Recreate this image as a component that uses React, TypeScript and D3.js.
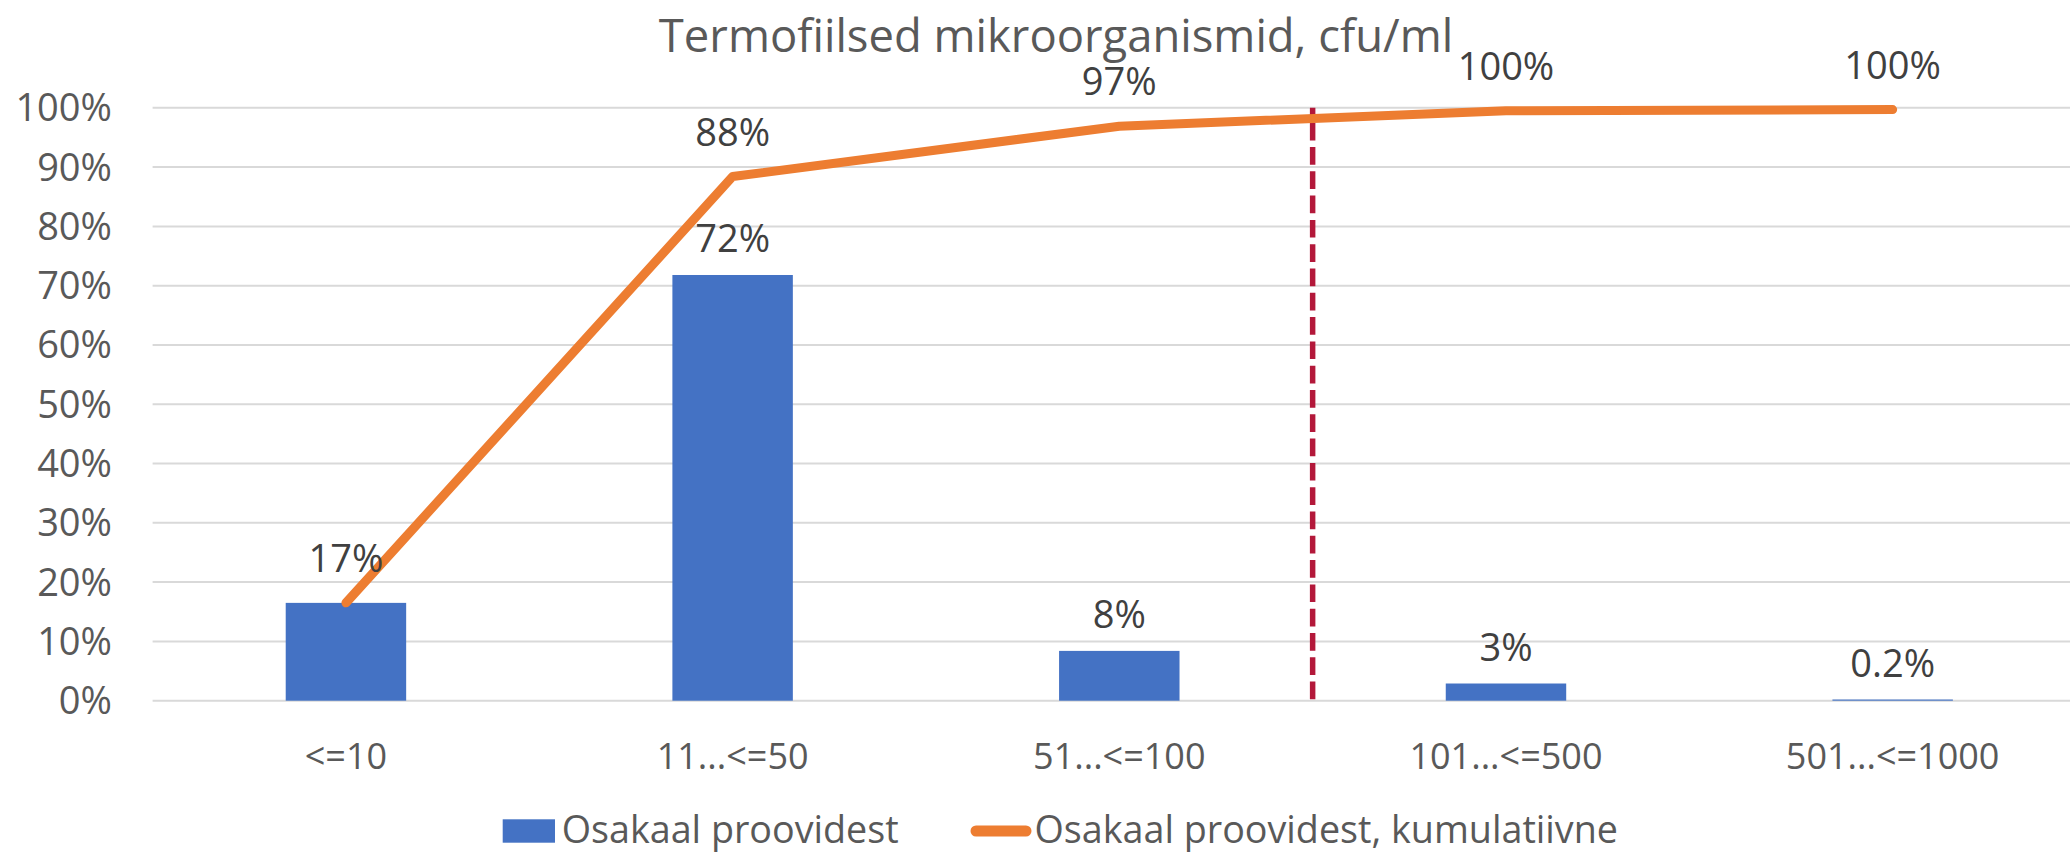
import React from "react";
import * as d3 from "d3";

// ---- data ----
const title = "Termofiilsed mikroorganismid, cfu/ml";
const categories = ["<=10", "11...<=50", "51...<=100", "101...<=500", "501...<=1000"];
const shareValues = [0.165, 0.718, 0.084, 0.029, 0.002];
const shareLabels = ["17%", "72%", "8%", "3%", "0.2%"];
const cumulativeValues = [0.165, 0.884, 0.969, 0.995, 0.997];
const cumulativeLabels = ["17%", "88%", "97%", "100%", "100%"];
const yTicks = [0, 0.1, 0.2, 0.3, 0.4, 0.5, 0.6, 0.7, 0.8, 0.9, 1.0];
const seriesNames = ["Osakaal proovidest", "Osakaal proovidest, kumulatiivne"];
const thresholdAfterIndex = 2; // dashed marker between category 3 and 4

// ---- layout / style ----
const W = 2070;
const H = 852;
const plotLeft = 152.6;
const plotRight = 2086;
const yZero = 700.7;
const yTop = 107.8;
const barColor = "#4472C4";
const lineColor = "#ED7D31";
const gridColor = "#D9D9D9";
const markerColor = "#B3183A";
const axisText = "#595959";
const labelText = "#404040";
const font = "'Open Sans', sans-serif";

export default function App() {
  const x = d3.scaleBand<string>().domain(categories).range([plotLeft, plotRight]).padding(0);
  const y = d3.scaleLinear().domain([0, 1]).range([yZero, yTop]);
  const bw = x.bandwidth();
  const barW = bw * 0.3115;
  const cx = (c: string) => (x(c) as number) + bw / 2;

  const line = d3
    .line<number>()
    .x((_, i) => cx(categories[i]))
    .y((d) => y(d));

  const markerX = (x(categories[thresholdAfterIndex]) as number) + bw;

  return (
    <svg
      width={W}
      height={H}
      style={{ position: "absolute", left: 0, top: 0, background: "#fff" }}
      fontFamily={font}
    >
      <rect x={0} y={0} width={W} height={H} fill="#fff" />
      {/* title */}
      <text x={1056} y={51.5} textAnchor="middle" fontSize={45.4} fill={axisText}>
        {title}
      </text>

      {/* gridlines */}
      {yTicks.map((t) => (
        <line
          key={"g" + t}
          x1={plotLeft}
          x2={plotRight}
          y1={y(t)}
          y2={y(t)}
          stroke={gridColor}
          strokeWidth={2}
        />
      ))}

      {/* y tick labels */}
      {yTicks.map((t) => (
        <text
          key={"t" + t}
          x={112}
          y={y(t) + 13.5}
          textAnchor="end"
          fontSize={38}
          fill={axisText}
        >
          {d3.format(".0%")(t)}
        </text>
      ))}

      {/* bars */}
      {shareValues.map((v, i) => (
        <rect
          key={"b" + i}
          x={cx(categories[i]) - barW / 2}
          y={y(v)}
          width={barW}
          height={yZero - y(v)}
          fill={barColor}
        />
      ))}

      {/* threshold dashed line */}
      <line
        x1={markerX}
        x2={markerX}
        y1={y(0) - 1.4}
        y2={y(1)}
        stroke={markerColor}
        strokeWidth={5.5}
        strokeDasharray="17.7 6.6"
      />

      {/* cumulative line */}
      <path
        d={line(cumulativeValues) || ""}
        fill="none"
        stroke={lineColor}
        strokeWidth={9}
        strokeLinejoin="round"
        strokeLinecap="round"
      />

      {/* bar labels (first one coincides with the line label) */}
      {shareValues.map((v, i) =>
        i === 0 ? null : (
          <text
            key={"bl" + i}
            x={cx(categories[i])}
            y={y(v) - 23}
            textAnchor="middle"
            fontSize={38}
            fill={labelText}
          >
            {shareLabels[i]}
          </text>
        )
      )}

      {/* line labels */}
      {cumulativeValues.map((v, i) => (
        <text
          key={"ll" + i}
          x={cx(categories[i])}
          y={y(v) - 31}
          textAnchor="middle"
          fontSize={38}
          fill={labelText}
        >
          {cumulativeLabels[i]}
        </text>
      ))}

      {/* category labels */}
      {categories.map((c) => (
        <text
          key={"c" + c}
          x={cx(c)}
          y={769}
          textAnchor="middle"
          fontSize={36}
          fill={axisText}
        >
          {c}
        </text>
      ))}

      {/* legend */}
      <rect x={502.7} y={819.3} width={52.3} height={23.4} fill={barColor} />
      <text x={561.7} y={843} fontSize={37.7} fill={axisText}>
        {seriesNames[0]}
      </text>
      <line
        x1={976}
        x2={1026}
        y1={831}
        y2={831}
        stroke={lineColor}
        strokeWidth={11}
        strokeLinecap="round"
      />
      <text x={1034.5} y={843} fontSize={37.7} fill={axisText}>
        {seriesNames[1]}
      </text>
    </svg>
  );
}
